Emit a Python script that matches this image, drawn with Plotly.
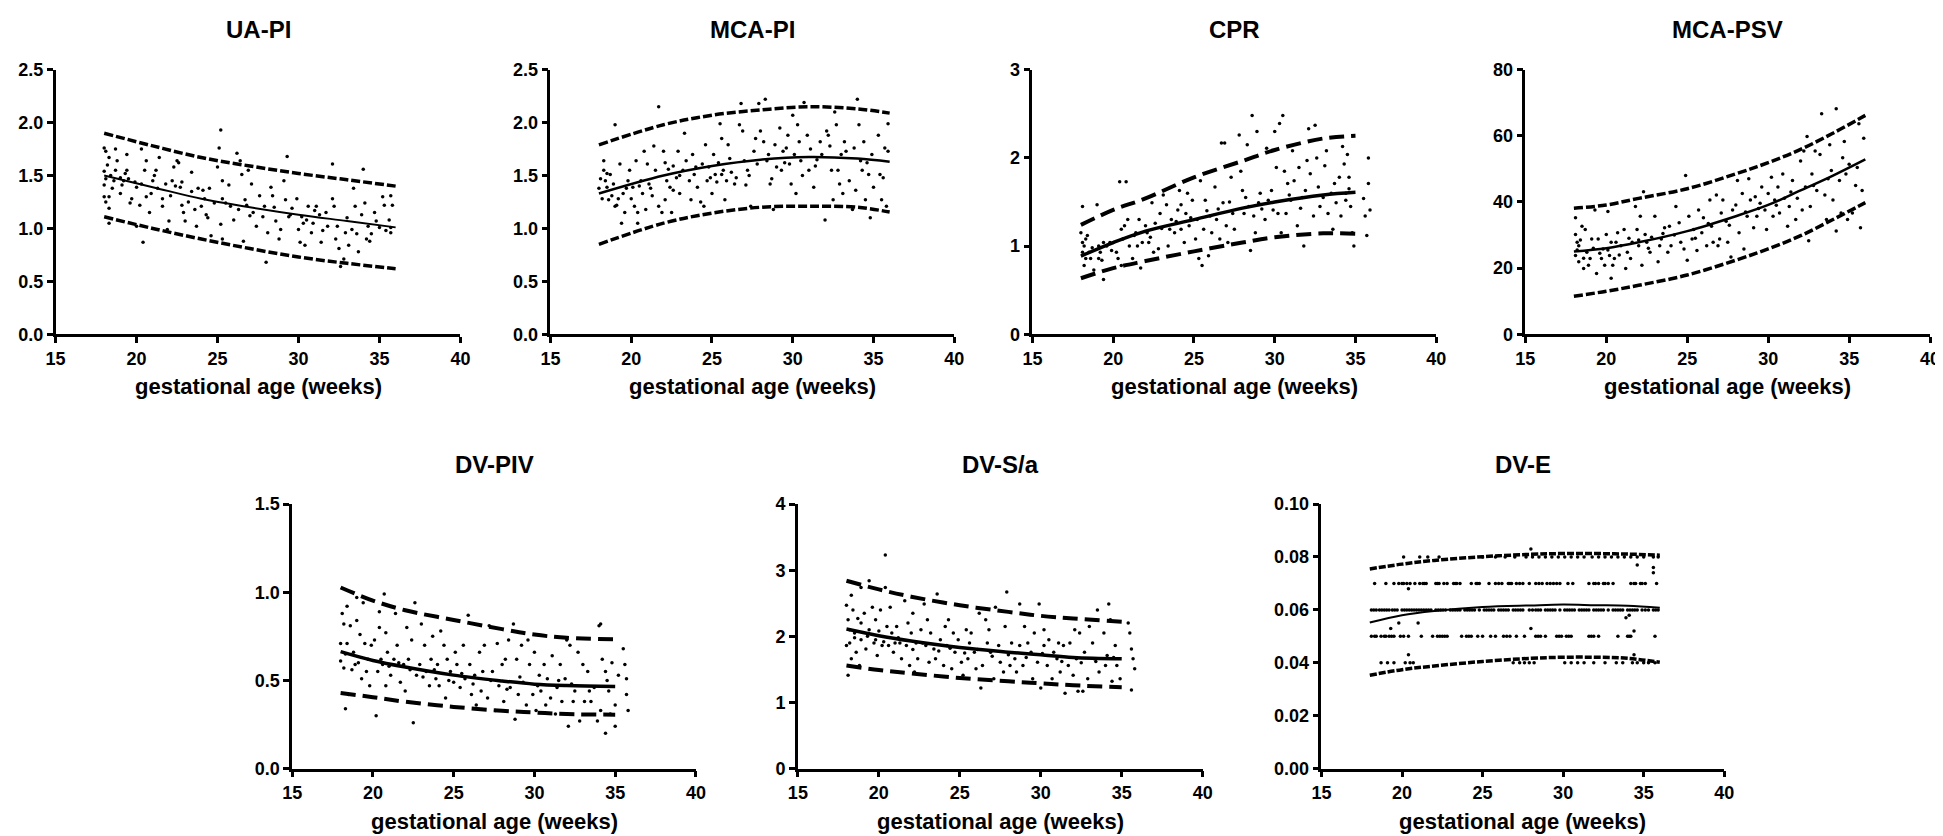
import plotly.graph_objects as go

# ---------------- data ----------------
panel_titles = ["UA-PI", "MCA-PI", "CPR", "MCA-PSV", "DV-PIV", "DV-S/a", "DV-E"]
x_ticks = [15, 20, 25, 30, 35, 40]
x_title = "gestational age (weeks)"

# UA-PI
ua_points = [(18.0,1.76),(18.1,1.73),(18.3,1.67),(18.0,1.54),(18.1,1.47),(18.0,1.41),(18.3,1.30),(18.3,1.19),(18.3,1.05),(18.0,1.30),
(18.7,1.75),(18.8,1.64),(18.7,1.55),(19.0,1.48),(19.2,1.45),(19.1,1.41),(19.0,1.33),(19.4,1.55),(19.4,1.70),
(19.6,1.24),(19.7,1.28),(19.9,1.44),(20.0,1.39),(20.0,1.02),(20.4,0.87),(20.3,1.75),(20.3,1.42),(20.5,1.55),
(20.6,1.64),(20.8,1.15),(20.9,1.33),(21.0,1.45),(21.2,1.55),(21.3,1.38),(21.4,1.67),(21.6,1.21),(21.6,1.28),
(21.9,0.99),(22.0,1.07),(22.1,1.31),(22.2,1.45),(22.3,1.58),(22.5,1.64),(22.7,1.39),(22.8,1.22),(22.9,1.15),(22.8,1.44),
(23.0,1.07),(23.2,1.25),(23.4,1.53),(23.4,1.35),(23.7,1.02),(23.8,1.38),(24.0,1.21),(24.1,1.36),
(24.2,1.28),(24.3,1.13),(24.5,1.38),(24.6,0.93),(24.8,1.24),(25.0,1.58),(25.1,1.76),(25.2,1.93),(25.3,1.45),(25.3,1.28),(25.2,1.04),(25.3,0.90),
(25.5,1.24),(25.7,1.41),(25.8,1.21),(26.0,1.08),(26.2,1.71),(26.3,1.18),(26.4,1.64),(26.5,1.51),(26.7,1.27),(26.6,0.88),
(26.9,1.55),(27.1,1.42),(27.2,1.15),(27.4,1.02),(27.6,1.31),(27.8,1.11),(27.9,1.21),(28.0,0.68),(28.1,0.96),
(28.3,1.39),(28.4,1.31),(28.6,1.07),(28.8,0.90),(28.9,0.99),(29.1,1.45),(29.2,1.27),(29.3,1.68),(29.4,1.11),
(29.6,1.19),(29.9,1.28),(30.0,0.99),(30.1,0.87),(30.2,1.11),(30.3,1.05),(30.4,0.84),(30.6,1.21),
(30.8,0.96),(30.9,1.05),(31.1,1.21),(31.3,1.13),(31.4,0.87),(31.5,0.98),(31.7,1.15),(31.8,1.02),
(32.1,1.61),(32.1,1.28),(32.2,1.21),(32.3,0.90),(32.5,0.81),(32.6,0.64),(32.8,0.71),(32.9,0.96),(33.0,1.10),(33.1,0.84),
(33.3,0.99),(33.4,1.38),(33.5,1.21),(33.7,0.78),(33.9,1.13),(34.0,1.56),(34.1,1.24),(34.2,0.90),(34.3,1.02),
(34.5,0.95),(34.7,1.15),(34.8,1.07),(35.0,1.01),(35.2,1.30),(35.3,1.22),(35.7,1.01),(35.7,1.31),(35.6,1.08),(35.8,1.22),(35.7,0.96),
(18.2,1.60),(18.4,1.50),(18.5,1.38),(18.1,1.25),(18.6,1.45),(19.3,1.52),(19.5,1.47),(20.2,1.22),(20.6,1.30),(21.1,1.50),
(21.8,1.42),(22.4,1.40),(22.6,1.62),(23.6,1.18),(24.4,1.10),(26.8,1.22),(27.0,1.12),(28.5,1.20),(29.5,1.13),(30.5,1.08),
(31.0,1.17),(32.4,1.02),(33.6,0.95),(34.4,0.88),(35.4,0.98)]
ua_ga = [18, 21, 24, 27, 30, 33, 36]
ua_p50 = [1.50, 1.39, 1.28, 1.20, 1.13, 1.07, 1.01]
ua_p95 = [1.90, 1.78, 1.67, 1.59, 1.52, 1.46, 1.40]
ua_p5 = [1.11, 1.00, 0.90, 0.81, 0.73, 0.67, 0.62]

# MCA-PI
mca_points = [(18.0,1.38),(18.2,1.28),(18.3,1.64),(18.3,1.55),(18.4,1.45),(18.5,1.39),(18.6,1.27),(18.7,1.51),(18.8,1.31),(18.9,1.42),(19.0,1.98),(19.0,1.21),(19.2,1.28),
(19.3,1.61),(19.4,1.05),(19.5,1.33),(19.6,1.15),(19.8,1.45),(19.9,1.55),(20.0,1.28),(20.1,1.39),(20.2,1.21),(20.3,1.64),(20.4,1.15),(20.4,1.05),
(20.6,1.45),(20.7,1.33),(20.8,1.73),(20.9,1.18),(21.0,1.61),(21.2,1.38),(21.3,1.31),(21.4,1.78),(21.5,1.55),(21.7,1.21),(21.7,2.15),
(21.9,1.15),(22.0,1.73),(22.1,1.62),(22.1,1.27),(22.2,1.45),(22.4,1.39),(22.5,1.15),(22.6,1.59),(22.6,1.36),(22.8,1.48),(22.9,1.73),
(23.0,1.33),(23.2,1.55),(23.3,1.90),(23.4,1.64),(23.6,1.45),(23.7,1.27),(23.8,1.70),(23.9,1.51),(24.1,1.39),
(24.3,1.25),(24.4,1.61),(24.5,1.21),(24.6,1.79),(24.7,1.45),(24.8,1.58),(25.0,1.33),(25.1,1.70),(25.2,1.51),(25.3,1.44),
(25.5,1.99),(25.6,1.85),(25.6,1.51),(25.7,1.55),(25.8,1.27),(25.9,1.45),(26.0,1.79),(26.2,1.53),(26.4,1.42),(26.5,1.48),
(26.7,1.98),(26.8,2.18),(26.9,1.92),(27.0,1.64),(27.1,1.41),(27.2,1.55),(27.4,1.21),(27.6,1.73),(27.7,1.85),(27.8,1.61),
(27.9,2.18),(28.0,1.92),(28.2,1.82),(28.3,2.22),(28.4,1.64),(28.6,1.42),(28.7,1.47),(28.8,1.18),(28.9,1.79),(29.0,1.58),
(29.2,1.95),(29.3,1.55),(29.4,1.73),(29.6,1.76),(29.7,1.88),(29.8,1.61),(29.9,1.42),(30.0,2.07),(30.1,1.70),(30.2,1.33),
(30.3,1.98),(30.4,1.82),(30.5,1.64),(30.7,2.19),(30.9,1.88),(31.0,1.55),(31.1,1.75),(31.3,1.39),(31.4,1.59),
(31.7,1.82),(31.8,1.70),(32.0,1.08),(32.1,1.92),(32.2,1.88),(32.3,1.78),(32.4,1.55),(32.5,1.27),(32.6,2.10),(32.7,1.98),
(32.8,1.55),(32.9,1.42),(33.1,1.33),(33.2,1.82),(33.3,1.73),(33.5,1.45),(33.7,1.18),(33.8,1.76),(33.9,1.36),
(34.0,2.22),(34.1,1.98),(34.2,1.64),(34.3,1.55),(34.4,1.82),(34.5,1.27),(34.7,1.51),(34.8,1.10),(34.9,1.70),(35.0,1.39),
(35.3,1.88),(35.4,1.51),(35.5,1.27),(35.7,1.76),(35.8,1.21),(35.9,1.99),(35.9,1.73),
(18.1,1.47),(18.5,1.52),(19.1,1.22),(19.7,1.38),(20.5,1.40),(21.1,1.42),(22.3,1.56),(23.0,1.50),(24.0,1.58),(24.9,1.48),
(25.4,1.62),(26.1,1.66),(27.3,1.50),(28.5,1.70),(29.5,1.62),(30.6,1.50),(31.5,1.65),(33.0,1.70),(34.6,1.62),(35.6,1.48)]
mca_ga = [18, 22, 25, 28, 31, 34, 36]
mca_p50 = [1.33, 1.50, 1.59, 1.65, 1.675, 1.66, 1.63]
mca_p95 = [1.79, 1.98, 2.07, 2.12, 2.15, 2.13, 2.09]
mca_p5 = [0.85, 1.05, 1.145, 1.20, 1.21, 1.20, 1.155]

# CPR
cpr_points = [(18.1,1.45),(18.0,1.15),(18.1,1.04),(18.2,1.00),(18.3,1.08),(18.1,0.93),(18.3,0.86),(18.2,0.78),(18.5,0.93),(18.6,0.86),(18.8,0.73),(19.0,1.47),(19.1,1.00),(19.1,0.86),
(19.3,0.84),(19.4,0.62),(19.4,1.04),(19.6,1.00),(19.8,1.04),(20.0,1.04),(20.2,0.93),(20.3,0.86),(20.4,1.73),(20.5,1.19),(20.5,0.78),
(20.7,1.23),(20.8,1.73),(20.9,1.30),(21.0,1.00),(21.2,0.86),(21.4,1.15),(21.5,1.00),(21.6,1.30),(21.7,0.75),(21.8,1.04),
(22.0,1.23),(22.1,1.15),(22.2,1.04),(22.4,1.49),(22.5,0.93),(22.6,1.26),(22.8,0.97),(22.9,1.37),(23.1,1.58),
(23.3,1.47),(23.4,1.00),(23.5,1.19),(23.6,1.30),(23.8,1.15),(24.0,1.41),(24.1,1.63),(24.2,1.19),(24.2,1.47),
(24.4,1.04),(24.5,1.37),(24.6,1.60),(24.7,1.23),(24.9,1.52),(25.1,1.08),(25.2,1.30),(25.3,0.86),(25.4,1.74),(25.5,0.78),
(25.6,1.19),(25.7,1.52),(25.9,0.89),(26.0,1.34),(26.1,1.15),(26.3,1.67),(26.4,1.30),(26.6,1.08),(26.7,2.17),
(26.8,1.49),(26.9,2.17),(27.0,1.23),(27.1,1.04),(27.3,1.78),(27.4,1.37),(27.5,1.19),(27.8,2.26),(27.9,1.85),(28.0,1.63),
(28.1,1.37),(28.3,2.15),(28.4,1.45),(28.5,0.95),(28.6,2.48),(28.7,1.34),(28.8,1.15),(28.9,2.30),(29.0,1.49),(29.1,1.60),
(29.4,1.30),(29.5,2.11),(29.6,1.52),(29.8,1.63),(29.9,1.41),(30.0,2.30),(30.1,1.89),(30.2,1.37),(30.3,2.39),(30.4,1.15),
(30.5,2.48),(30.6,1.85),(30.7,1.37),(30.8,1.71),(31.0,1.52),(31.1,2.08),(31.2,1.74),(31.4,1.23),(31.5,1.89),(31.6,1.43),
(31.8,1.00),(31.9,1.63),(32.0,1.97),(32.1,2.33),(32.2,1.82),(32.4,1.34),(32.5,2.37),(32.6,2.00),(32.7,1.67),(32.8,1.45),
(33.1,1.91),(33.2,2.08),(33.3,1.37),(33.5,1.60),(33.6,1.19),(33.7,1.71),(33.8,1.49),(34.0,1.78),(34.1,1.34),
(34.2,2.13),(34.3,1.93),(34.4,1.60),(34.5,2.04),(34.6,1.78),(34.7,1.45),(34.8,1.15),(34.9,1.00),(35.5,1.54),(35.6,1.34),(35.7,1.12),(35.8,1.71),(35.8,2.00),(35.9,1.41),
(18.4,1.12),(18.7,0.98),(19.2,0.93),(19.9,0.95),(20.6,1.08),(21.3,1.12),(22.3,1.10),(23.0,1.20),(23.9,1.28),(24.8,1.32),
(25.8,1.40),(26.5,1.42),(27.2,1.50),(28.2,1.55),(29.2,1.42),(30.9,1.58),(31.7,1.55),(33.0,1.55),(34.4,1.52),(34.6,1.65)]
cpr_ga = [18, 20, 22, 25, 28, 30, 33, 35]
cpr_p50 = [0.887, 1.04, 1.17, 1.30, 1.43, 1.50, 1.58, 1.61]
cpr_p95 = [1.24, 1.41, 1.54, 1.78, 1.965, 2.09, 2.22, 2.25]
cpr_p5 = [0.635, 0.75, 0.83, 0.94, 1.04, 1.10, 1.145, 1.14]

# MCA-PSV
psv_points = [(18.1,35.2),(18.1,30.2),(18.2,27.8),(18.1,23.8),(18.3,21.9),(18.3,26.8),(18.5,32.7),(18.6,19.9),(18.7,31.7),(18.8,24.8),(18.9,20.9),(19.0,22.9),(19.1,28.8),
(19.3,37.6),(19.4,18.4),(19.5,28.8),(19.7,22.9),(19.8,25.8),(19.9,20.9),(20.0,30.2),(20.1,37.1),(20.2,23.8),(20.3,16.9),(20.4,20.9),(20.3,27.8),
(20.5,22.9),(20.6,27.8),(20.7,30.7),(20.9,26.8),(21.1,31.7),(21.2,19.9),(21.3,24.8),(21.5,22.9),(21.6,27.8),
(21.8,38.6),(21.9,31.7),(22.0,26.8),(22.1,35.7),(22.2,20.9),(22.3,43.1),(22.4,30.2),(22.5,27.8),(22.7,24.8),(22.8,29.3),
(23.0,35.7),(23.2,21.9),(23.3,26.8),(23.4,28.8),(23.6,32.2),(23.8,24.8),(23.9,32.7),(24.0,26.8),
(24.3,38.6),(24.5,33.7),(24.6,27.8),(24.8,25.8),(24.9,48.0),(25.0,22.4),(25.1,35.7),(25.3,28.8),(25.4,31.7),
(25.6,25.3),(25.7,37.6),(25.9,30.7),(26.0,35.2),(26.2,26.8),(26.4,40.6),(26.5,32.7),(26.6,27.8),
(26.8,42.1),(26.9,26.8),(27.0,28.8),(27.1,36.7),(27.2,40.6),(27.4,34.2),(27.5,27.8),(27.7,23.4),(27.8,37.6),
(28.0,39.1),(28.1,46.5),(28.2,30.7),(28.4,42.6),(28.5,25.8),(28.7,35.7),(28.8,47.0),(28.9,40.6),(29.1,32.2),
(29.2,41.6),(29.3,35.7),(29.5,39.6),(29.6,44.5),(29.8,37.6),(29.9,31.7),(30.0,42.6),(30.2,47.5),(30.3,35.7),
(30.4,40.6),(30.6,44.5),(30.7,36.7),(30.9,48.5),(31.0,41.1),(31.2,32.7),(31.3,38.6),(31.5,46.5),
(31.7,34.7),(31.8,41.1),(32.0,52.4),(32.1,37.6),(32.2,55.4),(32.3,44.5),(32.4,59.8),(32.5,28.3),(32.6,38.6),(32.7,48.5),
(32.9,55.4),(33.0,43.5),(33.2,54.4),(33.3,66.7),(33.5,42.1),(33.6,34.7),(33.8,57.3),(33.9,49.5),(34.0,40.6),
(34.2,68.2),(34.2,31.2),(34.4,46.5),(34.5,36.7),(34.6,53.4),(34.7,58.3),(34.9,34.7),(35.0,51.4),(35.2,36.7),(35.5,50.4),(35.7,32.2),(35.8,43.5),(35.9,59.3),(35.6,63.7),
(18.2,25.5),(18.4,28.5),(18.6,23.0),(19.2,26.0),(19.6,24.5),(20.1,25.5),(20.8,24.0),(21.4,29.0),(22.0,28.5),(22.6,26.0),
(23.5,30.5),(24.2,30.0),(25.5,29.0),(26.3,33.5),(27.6,33.0),(28.6,37.0),(29.4,38.0),(30.5,39.0),(31.4,43.0),(32.8,45.0),
(33.7,47.0),(34.8,48.5),(35.4,45.0)]
psv_ga = [18, 20, 22, 25, 28, 30, 32, 34, 36]
psv_p50 = [25.0, 26.0, 27.8, 31.2, 35.7, 39.1, 43.5, 48.0, 52.9]
psv_p95 = [38.1, 39.1, 41.1, 44.0, 48.5, 51.9, 55.9, 60.8, 66.2]
psv_p5 = [11.5, 13.0, 14.8, 17.9, 22.4, 25.8, 29.8, 34.7, 39.8]

# DV-PIV
piv_points = [(18.0,0.71),(18.0,0.61),(18.1,0.88),(18.2,0.82),(18.2,0.57),(18.3,0.34),(18.4,0.92),(18.4,0.71),(18.5,0.42),(18.6,0.81),(18.8,0.66),(18.9,0.59),(19.0,0.97),(19.0,0.84),
(19.2,0.76),(19.3,0.51),(19.4,0.94),(19.5,0.71),(19.7,0.62),(19.8,0.47),(19.9,0.70),(20.1,0.73),(20.2,0.30),(20.3,0.55),(20.4,0.89),(20.4,0.80),
(20.6,0.59),(20.7,0.99),(20.8,0.47),(20.8,0.77),(20.9,0.66),(21.1,0.53),(21.3,0.62),(21.4,0.88),(21.5,0.70),(21.7,0.49),
(21.9,0.59),(22.0,0.44),(22.1,0.80),(22.2,0.62),(22.4,0.73),(22.5,0.26),(22.6,0.94),(22.7,0.53),(22.9,0.59),(23.0,0.82),
(23.2,0.70),(23.3,0.55),(23.5,0.47),(23.6,0.62),(23.7,0.75),(23.9,0.51),(24.0,0.59),(24.1,0.47),(24.2,0.78),
(24.4,0.70),(24.5,0.40),(24.6,0.62),(24.8,0.55),(25.0,0.49),(25.1,0.66),(25.2,0.59),(25.4,0.46),(25.6,0.70),
(25.7,0.51),(25.9,0.87),(26.0,0.59),(26.1,0.42),(26.3,0.53),(26.4,0.36),(26.6,0.66),(26.7,0.44),(26.8,0.55),(26.9,0.70),
(27.1,0.40),(27.2,0.81),(27.4,0.55),(27.6,0.33),(27.7,0.71),(27.8,0.47),(28.0,0.59),(28.1,0.38),(28.2,0.62),
(28.4,0.73),(28.5,0.46),(28.7,0.82),(28.8,0.28),(28.9,0.62),(29.0,0.42),(29.2,0.70),(29.3,0.49),(29.5,0.36),
(29.6,0.73),(29.7,0.59),(29.9,0.42),(30.0,0.66),(30.1,0.33),(30.3,0.53),(30.4,0.44),(30.6,0.59),(30.7,0.36),
(30.8,0.51),(31.0,0.40),(31.1,0.64),(31.3,0.31),(31.4,0.46),(31.6,0.59),(31.7,0.38),(31.9,0.51),
(32.0,0.73),(32.1,0.24),(32.2,0.70),(32.4,0.38),(32.5,0.44),(32.7,0.66),(32.8,0.27),(33.0,0.59),(33.1,0.38),
(33.3,0.55),(33.5,0.38),(33.7,0.46),(33.9,0.27),(34.0,0.81),(34.1,0.82),(34.1,0.33),(34.2,0.62),
(34.4,0.20),(34.4,0.55),(34.6,0.44),(34.7,0.31),(34.8,0.60),(35.0,0.24),(35.0,0.36),(35.2,0.53),(35.5,0.68),(35.6,0.59),(35.7,0.51),(35.7,0.42),(35.8,0.33),
(18.3,0.65),(18.7,0.56),(19.1,0.60),(19.6,0.55),(20.5,0.62),(21.0,0.58),(21.6,0.60),(22.3,0.56),(23.1,0.52),(23.8,0.56),
(24.7,0.50),(25.5,0.54),(26.2,0.48),(27.3,0.50),(28.3,0.45),(29.1,0.52),(30.2,0.47),(31.5,0.50),(32.3,0.48),(33.4,0.44),(34.5,0.50)]
piv_ga = [18, 20, 22, 25, 28, 30, 32, 35]
piv_p50 = [0.663, 0.613, 0.576, 0.530, 0.497, 0.479, 0.471, 0.466]
piv_p95 = [1.027, 0.953, 0.898, 0.843, 0.791, 0.760, 0.742, 0.733]
piv_p5 = [0.429, 0.405, 0.379, 0.350, 0.328, 0.318, 0.309, 0.306]

# DV-S/a
sa_points = [(18.0,2.47),(18.0,1.86),(18.1,1.41),(18.1,2.25),(18.2,1.90),(18.3,2.62),(18.3,1.66),(18.4,2.40),(18.5,2.05),(18.6,1.76),(18.7,2.27),(18.8,1.56),(18.9,2.74),(18.9,1.95),
(19.1,2.35),(19.2,1.81),(19.4,2.84),(19.4,2.10),(19.6,2.44),(19.7,1.90),(19.8,2.25),(19.9,1.71),(20.0,2.08),(20.1,2.40),(20.2,1.86),
(20.4,3.23),(20.4,2.74),(20.5,2.15),(20.6,1.86),(20.7,2.44),(20.8,2.05),(20.9,1.76),(21.0,1.90),(21.1,2.15),(21.3,1.90),(21.4,1.66),
(21.6,2.54),(21.7,1.86),(21.8,2.20),(21.9,1.56),(22.0,2.05),(22.1,2.35),(22.2,1.46),(22.3,1.90),(22.4,1.66),(22.6,2.10),
(22.8,2.49),(22.9,1.86),(23.0,2.25),(23.1,1.61),(23.2,2.05),(23.4,1.81),(23.5,1.66),(23.6,2.64),(23.8,1.95),
(24.0,1.56),(24.1,2.15),(24.2,1.86),(24.3,2.25),(24.5,1.51),(24.6,2.05),(24.7,1.76),(24.9,1.95),(25.1,1.61),
(25.2,1.41),(25.4,2.10),(25.5,1.66),(25.6,1.90),(25.7,2.05),(25.9,1.76),(26.0,1.51),(26.2,2.35),(26.3,1.22),
(26.4,1.56),(26.6,2.25),(26.7,1.90),(26.8,2.10),(26.9,1.76),(27.1,1.36),(27.2,2.44),(27.4,1.86),(27.5,1.61),
(27.7,1.46),(27.8,2.15),(27.9,2.67),(28.1,1.56),(28.2,1.90),(28.4,1.66),(28.5,1.46),(28.7,2.49),(28.7,1.86),
(28.9,1.56),(29.0,2.15),(29.2,1.90),(29.4,1.76),(29.5,1.36),(29.6,2.05),(29.8,1.61),(29.9,2.49),(30.0,1.22),
(30.2,2.10),(30.2,1.86),(30.4,1.56),(30.5,1.95),(30.7,1.36),(30.8,1.76),(31.0,1.66),(31.1,1.90),(31.2,1.46),
(31.4,1.86),(31.5,1.14),(31.7,1.56),(31.8,1.90),(32.0,1.41),(32.1,2.10),(32.2,1.66),(32.3,1.17),(32.4,2.05),
(32.6,1.17),(32.7,1.76),(32.9,1.36),(33.0,2.15),(33.2,1.90),(33.3,1.66),(33.5,2.40),(33.6,1.46),
(33.9,2.05),(34.0,1.56),(34.1,1.71),(34.2,2.49),(34.3,2.25),(34.4,1.32),(34.6,1.86),(34.7,1.56),(34.9,1.36),(35.4,2.20),(35.5,2.05),(35.6,1.81),(35.6,1.19),(35.7,1.66),(35.8,1.51),
(18.2,2.10),(18.5,1.98),(18.9,2.20),(19.3,2.00),(19.8,1.95),(20.3,1.92),(21.2,1.98),(22.1,1.80),(22.7,1.90),(23.7,1.78),
(24.4,1.82),(25.3,1.75),(26.1,1.80),(27.0,1.70),(28.0,1.72),(29.1,1.68),(30.1,1.74),(31.3,1.62),(32.5,1.60),(33.4,1.62),(34.5,1.68)]
sa_ga = [18, 20, 22, 25, 28, 30, 32, 35]
sa_p50 = [2.11, 2.01, 1.93, 1.83, 1.76, 1.72, 1.68, 1.66]
sa_p95 = [2.84, 2.71, 2.60, 2.47, 2.37, 2.31, 2.27, 2.22]
sa_p5 = [1.56, 1.49, 1.44, 1.37, 1.32, 1.29, 1.26, 1.23]

# DV-E (values recorded in steps of 0.01)
dve_ga_080 = [20.1, 21.1, 21.6, 22.3, 25.0, 25.8, 26.4, 27.0, 27.7, 28.1, 28.5, 28.9, 29.3, 29.7, 30.1, 30.5, 30.9, 31.3, 31.8, 32.2, 32.6, 33.0, 33.4, 33.8, 34.2, 34.6, 35.0, 35.6, 35.9]
dve_ga_070 = [18.3, 19.0, 19.5, 19.8, 20.1, 20.3, 20.5, 20.8, 21.1, 21.3, 21.5, 22.1, 22.3, 22.6, 22.8, 23.2, 23.4, 23.6, 24.3, 24.6, 24.8, 25.4, 25.8, 26.2, 26.6, 26.8, 27.1, 27.5, 27.9, 28.3, 28.7, 29.0, 29.4, 29.8, 30.3, 30.6, 31.6, 31.9, 32.2, 32.5, 32.8, 33.1, 34.2, 34.5, 34.8, 35.1, 35.8,
              20.0, 21.4, 22.2, 23.3, 24.7, 26.0, 26.7, 27.3, 28.5, 29.2, 29.6, 32.0, 32.6, 34.4, 34.9]
dve_ga_060 = [18.1, 18.4, 18.6, 18.9, 19.2, 19.4, 19.7, 20.0, 20.3, 20.6, 20.9, 21.2, 21.5, 21.8, 22.1, 22.4, 22.7, 23.0, 23.3, 23.6, 23.9, 24.2, 24.5, 24.8, 25.1, 25.4, 25.7, 26.0, 26.3, 26.6, 26.9, 27.2, 27.5, 27.9, 28.3, 28.6, 28.9, 29.2, 29.5, 29.8, 30.1, 30.4, 30.7, 31.0, 31.3, 31.6, 31.9, 32.2, 32.5, 32.8, 33.1, 33.4, 33.7, 34.0, 34.3, 34.6, 34.9, 35.3, 35.6, 35.9,
              18.25, 18.75, 19.05, 19.55, 20.15, 20.45, 20.75, 21.05, 21.35, 21.65, 22.25, 22.55, 23.15, 23.45, 24.05, 24.35, 25.25, 25.55, 26.15, 26.45, 27.05, 27.35, 28.1, 28.45, 29.05, 29.35, 30.25, 30.55, 31.15, 31.45, 32.05, 32.35, 33.25, 33.55, 34.15, 34.45, 35.1, 35.75]
dve_ga_050 = [18.1, 18.4, 18.7, 19.0, 19.2, 19.5, 19.9, 20.1, 20.4, 21.2, 21.9, 22.2, 22.5, 22.8, 23.7, 24.0, 24.3, 24.7, 25.0, 25.5, 25.8, 26.3, 26.7, 27.1, 27.6, 28.3, 28.6, 28.9, 29.6, 29.9, 30.2, 30.5, 31.6, 31.9, 32.2, 33.4, 34.0, 34.2, 35.7,
              18.3, 18.9, 19.35, 22.35, 22.65, 24.15, 26.5, 28.45, 29.75, 30.35, 31.75, 34.1]
dve_ga_040 = [18.7, 19.1, 19.5, 20.2, 20.5, 20.7, 26.9, 27.3, 27.6, 27.9, 28.2, 30.1, 30.5, 30.9, 31.3, 31.9, 32.6, 33.3, 33.7, 34.3, 34.6, 35.0, 35.3, 35.7]
dve_other = [(19.3, 0.053), (19.8, 0.055), (21.0, 0.055), (20.4, 0.043), (20.4, 0.068), (28.0, 0.053), (28.0, 0.083),
             (33.9, 0.057), (34.1, 0.058), (34.4, 0.052), (34.6, 0.077), (35.6, 0.074), (35.6, 0.076), (34.4, 0.043)]
dve_ga = [18, 20, 22, 25, 28, 30, 32, 34, 36]
dve_p50 = [0.0552, 0.0580, 0.0596, 0.0611, 0.0617, 0.0620, 0.0618, 0.0616, 0.0608]
dve_p95 = [0.0755, 0.0773, 0.0787, 0.0801, 0.0810, 0.0813, 0.0813, 0.0811, 0.0807]
dve_p5 = [0.0353, 0.0374, 0.0388, 0.0405, 0.0417, 0.0421, 0.0421, 0.0417, 0.0402]

y_ticks = {
    "UA-PI": [0, 0.5, 1.0, 1.5, 2.0, 2.5],
    "MCA-PI": [0, 0.5, 1.0, 1.5, 2.0, 2.5],
    "CPR": [0, 1, 2, 3],
    "MCA-PSV": [0, 20, 40, 60, 80],
    "DV-PIV": [0, 0.5, 1.0, 1.5],
    "DV-S/a": [0, 1, 2, 3, 4],
    "DV-E": [0, 0.02, 0.04, 0.06, 0.08, 0.10],
}
y_formats = {"UA-PI": ".1f", "MCA-PI": ".1f", "CPR": "d", "MCA-PSV": "d",
             "DV-PIV": ".1f", "DV-S/a": "d", "DV-E": ".2f"}

# ---------------- figure building ----------------
W, H = 1943, 836
# plot-area pixel boxes: (left, right, top, bottom)
boxes = {
    "UA-PI": (38, 447, 53, 324),
    "MCA-PI": (538, 946, 53, 324),
    "CPR": (1025, 1433, 53, 324),
    "MCA-PSV": (1523, 1932, 53, 324),
    "DV-PIV": (277, 685, 498, 769),
    "DV-S/a": (788, 1197, 498, 769),
    "DV-E": (1317, 1724, 498, 769),
}
styles = {  # (percentile dash, percentile width, median width)
    "UA-PI": ("9px,3px", 3.5, 2.0),
    "MCA-PI": ("9px,3px", 3.5, 2.5),
    "CPR": ("15px,7px", 4.0, 3.5),
    "MCA-PSV": ("9px,3px", 3.5, 2.5),
    "DV-PIV": ("15px,7px", 4.0, 3.5),
    "DV-S/a": ("15px,7px", 4.0, 3.5),
    "DV-E": ("7px,2px", 3.5, 2.0),
}

dve_points = ([(g, 0.08) for g in dve_ga_080] + [(g, 0.07) for g in dve_ga_070] +
              [(g, 0.06) for g in dve_ga_060] + [(g, 0.05) for g in dve_ga_050] +
              [(g, 0.04) for g in dve_ga_040] + dve_other)

panels = [
    ("UA-PI", ua_points, ua_ga, ua_p50, ua_p95, ua_p5),
    ("MCA-PI", mca_points, mca_ga, mca_p50, mca_p95, mca_p5),
    ("CPR", cpr_points, cpr_ga, cpr_p50, cpr_p95, cpr_p5),
    ("MCA-PSV", psv_points, psv_ga, psv_p50, psv_p95, psv_p5),
    ("DV-PIV", piv_points, piv_ga, piv_p50, piv_p95, piv_p5),
    ("DV-S/a", sa_points, sa_ga, sa_p50, sa_p95, sa_p5),
    ("DV-E", dve_points, dve_ga, dve_p50, dve_p95, dve_p5),
]

FONT = "Liberation Sans, Arial, Helvetica, sans-serif"
fig = go.Figure()
layout = dict(width=W, height=H, margin=dict(l=0, r=0, t=0, b=0),
              paper_bgcolor="white", plot_bgcolor="white", showlegend=False,
              font=dict(family=FONT, color="black"))
annotations = []

for i, (name, pts, ga, p50, p95, p5) in enumerate(panels):
    n = "" if i == 0 else str(i + 1)
    xa, ya = "x" + n, "y" + n
    l, r, t, b = boxes[name]
    dash, pw, mw = styles[name]
    yt = y_ticks[name]

    fig.add_trace(go.Scatter(x=[p[0] for p in pts], y=[p[1] for p in pts], mode="markers",
                             marker=dict(color="black", size=3.5, line=dict(width=0)),
                             xaxis=xa, yaxis=ya, hoverinfo="skip"))
    for curve, width, dsh in ((p95, pw, dash), (p5, pw, dash), (p50, mw, "solid")):
        fig.add_trace(go.Scatter(x=ga, y=curve, mode="lines",
                                 line=dict(color="black", width=width, dash=dsh, shape="spline", smoothing=1.0),
                                 xaxis=xa, yaxis=ya, hoverinfo="skip"))

    axis_common = dict(showgrid=False, zeroline=False, showline=True, linecolor="black", linewidth=2.5,
                       ticks="outside", ticklen=6, tickwidth=2.5, tickcolor="black", mirror=False,
                       tickfont=dict(family=FONT, size=18, color="black", weight="bold"), fixedrange=True)
    layout["xaxis" + n] = dict(axis_common, domain=[l / W, r / W], range=[15, 40],
                               tickvals=x_ticks, anchor=ya)
    layout["yaxis" + n] = dict(axis_common, domain=[1 - b / H, 1 - t / H], range=[yt[0], yt[-1]],
                               tickvals=yt, tickformat=y_formats[name], anchor=xa)

    cx = (l + r) / 2 / W
    title_y = 12 if t < 100 else 457
    annotations.append(dict(text="<b>%s</b>" % name, x=cx, y=1 - title_y / H, xref="paper", yref="paper",
                            xanchor="center", yanchor="middle", showarrow=False,
                            font=dict(family=FONT, size=24, color="black")))
    annotations.append(dict(text="<b>%s</b>" % x_title, x=cx, y=1 - (b + 54) / H, xref="paper", yref="paper",
                            xanchor="center", yanchor="middle", showarrow=False,
                            font=dict(family=FONT, size=22, color="black")))

layout["annotations"] = annotations
fig.update_layout(**layout)
fig.write_html("out.html")
